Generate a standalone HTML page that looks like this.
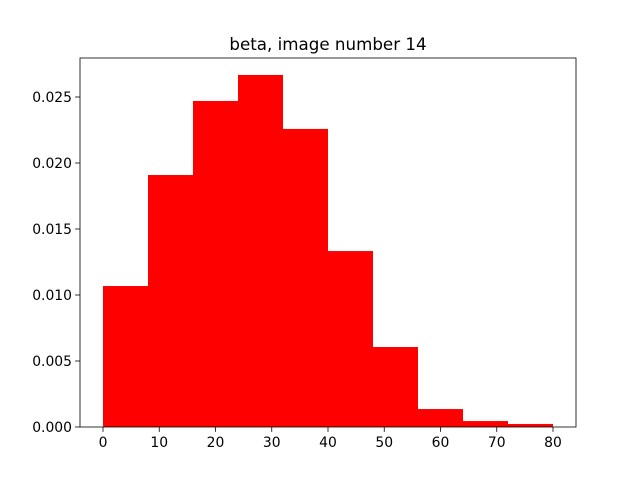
<!DOCTYPE html>
<html><head><meta charset="utf-8"><style>
body{margin:0;background:#fff;}
svg text{font-family:"DejaVu Sans","Liberation Sans",sans-serif;font-size:13.9px;fill:#000;}
</style></head><body>
<svg id="chart" width="640" height="480" xmlns="http://www.w3.org/2000/svg">
<rect width="640" height="480" fill="#fff"/>
<text x="328" y="50" text-anchor="middle" style="font-size:16.7px">beta, image number 14</text>
<g id="bars"></g>
<g id="xticks"></g>
<g id="yticks"></g>
<rect x="80" y="58" width="496" height="369" fill="none" stroke="#000" stroke-width="0.8"/>
</svg>
<script>
const binEdges = [0,8,16,24,32,40,48,56,64,72,80];
const densities = [0.01068,0.01909,0.02470,0.02667,0.02258,0.01333,0.00606,0.00136,0.00045,0.00023];
const xTicks = [0,10,20,30,40,50,60,70,80];
const yTicks = [0.000,0.005,0.010,0.015,0.020,0.025];
const yTickLabels = ["0.000","0.005","0.010","0.015","0.020","0.025"];

const NS="http://www.w3.org/2000/svg";
function xs(v){return 103+v*(450/80);}
function ys(v){return 427-v*13200;}
const bars=document.getElementById('bars');
densities.forEach((d,i)=>{
  const r=document.createElementNS(NS,'rect');
  r.setAttribute('x',xs(binEdges[i]));
  r.setAttribute('width',xs(binEdges[i+1])-xs(binEdges[i]));
  r.setAttribute('y',ys(d));
  r.setAttribute('height',ys(0)-ys(d));
  r.setAttribute('fill','#ff0000');
  
  
  bars.appendChild(r);
});
const xg=document.getElementById('xticks');
xTicks.forEach(t=>{
  const l=document.createElementNS(NS,'line');
  l.setAttribute('x1',xs(t));l.setAttribute('x2',xs(t));
  l.setAttribute('y1',427);l.setAttribute('y2',431.9);
  l.setAttribute('stroke','#000');l.setAttribute('stroke-width','0.8');
  
  
  xg.appendChild(l);
  const tx=document.createElementNS(NS,'text');
  tx.setAttribute('x',xs(t));tx.setAttribute('y',447);
  tx.setAttribute('text-anchor','middle');
  tx.textContent=t;
  
  
  xg.appendChild(tx);
});
const yg=document.getElementById('yticks');
yTicks.forEach((t,i)=>{
  const l=document.createElementNS(NS,'line');
  l.setAttribute('x1',75.1);l.setAttribute('x2',80);
  l.setAttribute('y1',ys(t));l.setAttribute('y2',ys(t));
  l.setAttribute('stroke','#000');l.setAttribute('stroke-width','0.8');
  
  
  yg.appendChild(l);
  const tx=document.createElementNS(NS,'text');
  tx.setAttribute('x',72);tx.setAttribute('y',ys(t)+5);
  tx.setAttribute('text-anchor','end');
  tx.textContent=yTickLabels[i];
  
  
  yg.appendChild(tx);
});
</script>
</body></html>
